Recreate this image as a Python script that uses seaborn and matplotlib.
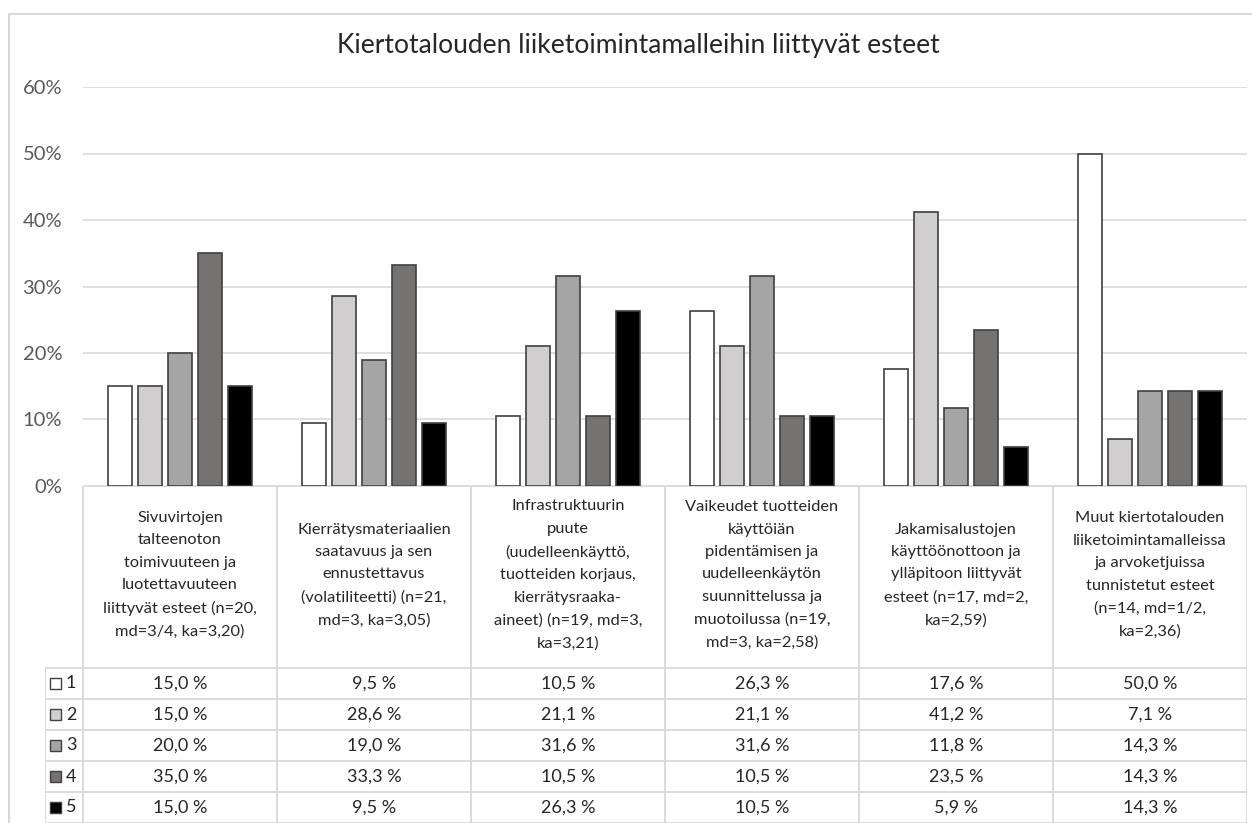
import matplotlib
matplotlib.use("Agg")

import matplotlib.pyplot as plt
from matplotlib.patches import Rectangle
import numpy as np
import pandas as pd
import seaborn as sns

TITLE = "Kiertotalouden liiketoimintamalleihin liittyvät esteet"

CATEGORIES = [
    "Sivuvirtojen\ntalteenoton\ntoimivuuteen ja\nluotettavuuteen\nliittyvät esteet (n=20,\nmd=3/4, ka=3,20)",
    "Kierrätysmateriaalien\nsaatavuus ja sen\nennustettavus\n(volatiliteetti) (n=21,\nmd=3, ka=3,05)",
    "Infrastruktuurin\npuute\n(uudelleenkäyttö,\ntuotteiden korjaus,\nkierrätysraaka-\naineet) (n=19, md=3,\nka=3,21)",
    "Vaikeudet tuotteiden\nkäyttöiän\npidentämisen ja\nuudelleenkäytön\nsuunnittelussa ja\nmuotoilussa (n=19,\nmd=3, ka=2,58)",
    "Jakamisalustojen\nkäyttöönottoon ja\nylläpitoon liittyvät\nesteet (n=17, md=2,\nka=2,59)",
    "Muut kiertotalouden\nliiketoimintamalleissa\nja arvoketjuissa\ntunnistetut esteet\n(n=14, md=1/2,\nka=2,36)",
]

LEVELS = ["1", "2", "3", "4", "5"]
S1 = [15.0, 9.5, 10.5, 26.3, 17.6, 50.0]
S2 = [15.0, 28.6, 21.1, 21.1, 41.2, 7.1]
S3 = [20.0, 19.0, 31.6, 31.6, 11.8, 14.3]
S4 = [35.0, 33.3, 10.5, 10.5, 23.5, 14.3]
S5 = [15.0, 9.5, 26.3, 10.5, 5.9, 14.3]
SERIES = [S1, S2, S3, S4, S5]

Y_TICKS = [0, 10, 20, 30, 40, 50, 60]

COLORS = ["#ffffff", "#d0cece", "#a5a5a5", "#767171", "#000000"]
GRID = "#d9d9d9"
TXT = "#262626"

sns.set_theme(style="white")
plt.rcParams["font.family"] = ["Lato", "DejaVu Sans"]

W, H = 1252, 823
fig = plt.figure(figsize=(W / 100, H / 100), dpi=100)
fig.patch.set_facecolor("white")

# pixel layout helpers (origin top-left)
def fx(px):
    return px / W

def fy(py):
    return 1 - py / H

X0, X1 = 83, 1247          # plot / table columns
Y_TOP, Y_ZERO = 87, 486    # 60% line, 0% line
LEG_X0 = 45                 # legend column left edge
HEAD_H, ROW_H = 182, 31     # table rows (px)

# outer chart border
fig.add_artist(Rectangle((fx(8.5), fy(H + 5)), 1.2, fy(13.5) - fy(H + 5),
                         transform=fig.transFigure, fill=False,
                         edgecolor=GRID, linewidth=1.5))

fig.text(fx(638), fy(45), TITLE, ha="center", va="center", fontsize=19, color=TXT)

# ---- bars
df = pd.DataFrame({
    "cat": np.repeat(np.arange(len(CATEGORIES)), len(LEVELS)).astype(str),
    "level": LEVELS * len(CATEGORIES),
    "value": [SERIES[j][i] for i in range(len(CATEGORIES)) for j in range(len(LEVELS))],
})

ax = fig.add_axes([fx(X0), fy(Y_ZERO), fx(X1) - fx(X0), fy(Y_TOP) - fy(Y_ZERO)])
sns.barplot(data=df, x="cat", y="value", hue="level", hue_order=LEVELS,
            palette=COLORS, width=0.775, gap=0.2, edgecolor="#404040",
            linewidth=1.2, legend=False, ax=ax)
ax.set_xlim(-0.5, len(CATEGORIES) - 0.5)
ax.set_ylim(0, 60)
ax.set_yticks(Y_TICKS)
ax.set_yticklabels([f"{t}%" for t in Y_TICKS], fontsize=14.5, color="#595959")
ax.set_xticks([])
ax.set_xlabel("")
ax.set_ylabel("")
ax.tick_params(axis="y", length=0, pad=15)
for s in ax.spines.values():
    s.set_visible(False)
ax.yaxis.grid(True, color=GRID, linewidth=1.2)
ax.set_axisbelow(True)

# ---- data table
n_cat = len(CATEGORIES)
unit = (X1 - X0) / n_cat          # px per category
leg_w = (X0 - LEG_X0) / unit      # legend column width in category units
tab_h = HEAD_H + ROW_H * len(LEVELS)

tax = fig.add_axes([fx(LEG_X0), fy(Y_ZERO + tab_h), fx(X1) - fx(LEG_X0),
                    fy(Y_ZERO) - fy(Y_ZERO + tab_h)])
tax.set_xlim(-0.5 - leg_w, n_cat - 0.5)
tax.set_ylim(tab_h, 0)
tax.axis("off")

lk = dict(color=GRID, linewidth=1.3, solid_capstyle="butt")
for i in range(n_cat + 1):
    tax.plot([i - 0.5, i - 0.5], [0, tab_h], **lk)
tax.plot([-0.5 - leg_w, -0.5 - leg_w], [HEAD_H, tab_h], **lk)
tax.plot([-0.5, n_cat - 0.5], [0, 0], **lk)
for r in range(len(LEVELS) + 1):
    yy = HEAD_H + r * ROW_H
    tax.plot([-0.5 - leg_w, n_cat - 0.5], [yy, yy], **lk)

for i, lab in enumerate(CATEGORIES):
    tax.text(i, HEAD_H / 2 - 2, lab, ha="center", va="center", fontsize=11.8,
             color=TXT, linespacing=1.76)
    for r in range(len(LEVELS)):
        v = SERIES[r][i]
        tax.text(i, HEAD_H + (r + 0.5) * ROW_H, f"{v:.1f} %".replace(".", ","),
                 ha="center", va="center", fontsize=13, color=TXT)

px = 1 / unit
for r, (lev, col) in enumerate(zip(LEVELS, COLORS)):
    yc = HEAD_H + (r + 0.5) * ROW_H
    tax.add_patch(Rectangle((-0.5 - leg_w + 5 * px, yc - 5.5), 11 * px, 11,
                            facecolor=col, edgecolor="#404040", linewidth=1.0))
    tax.text(-0.5 - leg_w + 21 * px, yc, lev, ha="left", va="center",
             fontsize=13, color=TXT)

fig.savefig("out.png", dpi=100, facecolor="white")
